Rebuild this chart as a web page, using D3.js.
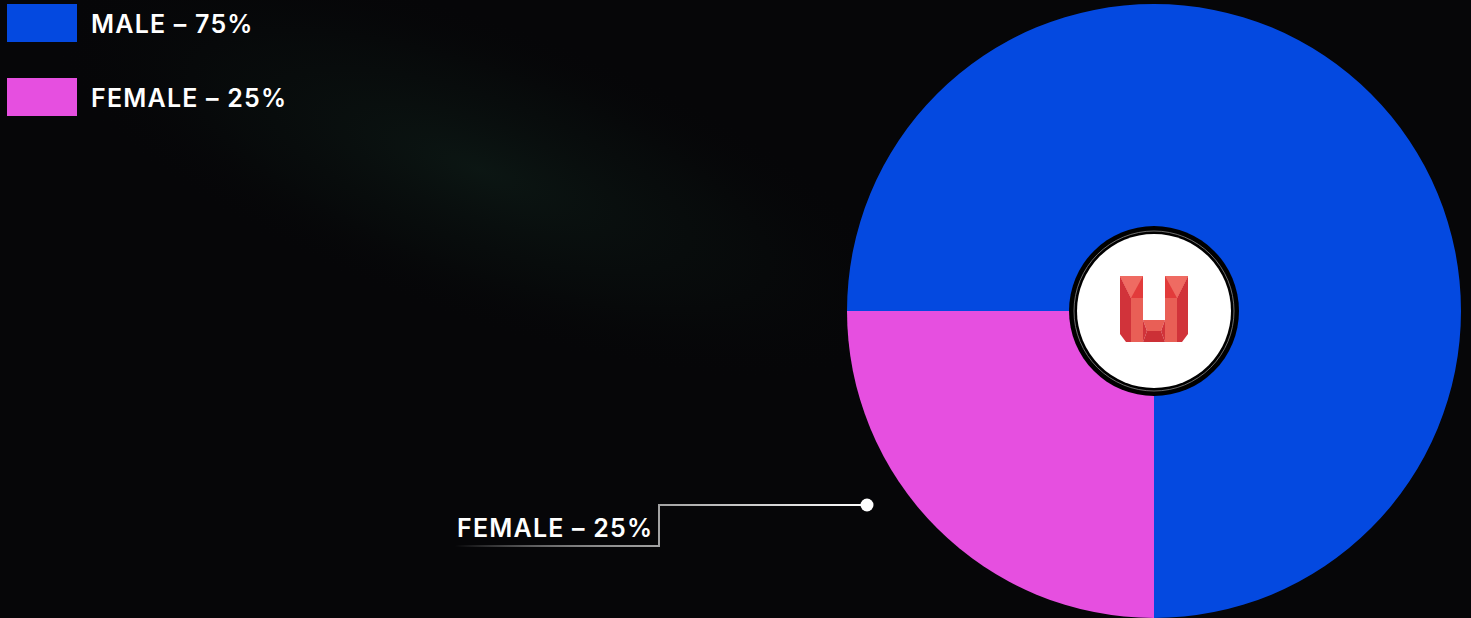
<!DOCTYPE html>
<html>
<head>
<meta charset="utf-8">
<script src="https://cdn.jsdelivr.net/npm/d3@7"></script>
<style>
  html, body { margin: 0; padding: 0; background: #060608; }
  svg { display: block; }
  text { font-family: Inter, "Noto Sans", sans-serif; font-weight: 600; fill: #ffffff; letter-spacing: 1.2px; }
</style>
</head>
<body>
<svg id="chart" width="1471" height="618"></svg>
<script>
// Gender split
const categories = ["MALE", "FEMALE"];
const shares = [75, 25];
const sliceColors = ["#0449e0", "#e64fe0"];
const legendLabels = ["MALE – 75%", "FEMALE – 25%"];
const calloutLabel = "FEMALE – 25%";

const W = 1471, H = 618;
const cx = 1154, cy = 311, R = 307;

const svg = d3.select("#chart");
const defs = svg.append("defs");

// dark background with a faint greenish haze
svg.append("rect").attr("width", W).attr("height", H).attr("fill", "#060608");
const haze = defs.append("radialGradient").attr("id", "haze");
haze.append("stop").attr("offset", "0%").attr("stop-color", "#0d1a16").attr("stop-opacity", 0.8);
haze.append("stop").attr("offset", "60%").attr("stop-color", "#0a1210").attr("stop-opacity", 0.35);
haze.append("stop").attr("offset", "100%").attr("stop-color", "#060608").attr("stop-opacity", 0);
svg.append("ellipse")
  .attr("cx", 480).attr("cy", 170).attr("rx", 460).attr("ry", 150)
  .attr("transform", "rotate(20 480 170)")
  .attr("fill", "url(#haze)");

// legend
const legend = svg.append("g");
const legendY = d3.scalePoint().domain(categories).range([4, 78]);
categories.forEach((c, i) => {
  legend.append("rect")
    .attr("x", 7).attr("y", legendY(c)).attr("width", 70).attr("height", 38)
    .attr("fill", sliceColors[i]);
  legend.append("text")
    .attr("x", 91).attr("y", legendY(c) + 29)
    .attr("font-size", 25)
    .text(legendLabels[i]);
});

// pie
const pie = d3.pie().sort(null).value(d => d)
  .startAngle(-Math.PI / 2).endAngle(3 * Math.PI / 2);
const arcs = pie(shares);
const arc = d3.arc().innerRadius(0).outerRadius(R);
const pieG = svg.append("g").attr("transform", `translate(${cx},${cy})`);
pieG.selectAll("path").data(arcs).join("path")
  .attr("d", arc)
  .attr("fill", (d, i) => sliceColors[i]);

// centre badge
pieG.append("circle").attr("r", 85).attr("fill", "#000");
pieG.append("circle").attr("r", 80).attr("fill", "none").attr("stroke", "#888").attr("stroke-width", 0.8);
pieG.append("circle").attr("r", 77).attr("fill", "#ffffff");

// logo mark: faceted U
const logo = pieG.append("g").attr("transform", "translate(0,-1)");
const facets = [
  // left pillar
  { c: "#d1333a", p: [[-34,-34],[-34,24],[-28,32],[-23,32],[-23,-12]] },
  { c: "#e95f56", p: [[-23,-12],[-23,32],[-11,32],[-11,-12]] },
  { c: "#e23b3b", p: [[-34,-34],[-11,-34],[-11,-12],[-23,-12]] },
  { c: "#ef6b62", p: [[-34,-34],[-23,-12],[-11,-34]] },
  // right pillar
  { c: "#d1333a", p: [[34,-34],[34,24],[28,32],[23,32],[23,-12]] },
  { c: "#e95f56", p: [[23,-12],[23,32],[11,32],[11,-12]] },
  { c: "#e23b3b", p: [[34,-34],[11,-34],[11,-12],[23,-12]] },
  { c: "#ef6b62", p: [[11,-34],[23,-12],[34,-34]] },
  // bottom bar
  { c: "#e95f56", p: [[-11,10],[11,10],[7,21],[-7,21]] },
  { c: "#d1333a", p: [[-11,10],[-7,21],[-11,32]] },
  { c: "#d1333a", p: [[11,10],[7,21],[11,32]] },
  { c: "#cc3036", p: [[-7,21],[7,21],[11,32],[-11,32]] }
];
facets.forEach(f => {
  logo.append("path").attr("d", d3.line()(f.p) + "Z").attr("fill", f.c);
});

// callout for the female slice
const dot = [867, 505];
const elbowX = 659, lowY = 546, tailX = 455;
const fade = defs.append("linearGradient").attr("id", "fade")
  .attr("gradientUnits", "userSpaceOnUse")
  .attr("x1", tailX).attr("y1", 0).attr("x2", dot[0]).attr("y2", 0);
fade.append("stop").attr("offset", "0%").attr("stop-color", "#ffffff").attr("stop-opacity", 0);
fade.append("stop").attr("offset", "45%").attr("stop-color", "#9a9a9a").attr("stop-opacity", 1);
fade.append("stop").attr("offset", "100%").attr("stop-color", "#ffffff").attr("stop-opacity", 1);
svg.append("path")
  .attr("d", d3.line()([[dot[0], dot[1]], [elbowX, dot[1]], [elbowX, lowY], [tailX, lowY]]))
  .attr("fill", "none").attr("stroke", "url(#fade)").attr("stroke-width", 2);
svg.append("circle").attr("cx", dot[0]).attr("cy", dot[1]).attr("r", 6.5).attr("fill", "#ffffff");
svg.append("text")
  .attr("x", 457).attr("y", 537)
  .attr("font-size", 25)
  .text(calloutLabel);
</script>
</body>
</html>
